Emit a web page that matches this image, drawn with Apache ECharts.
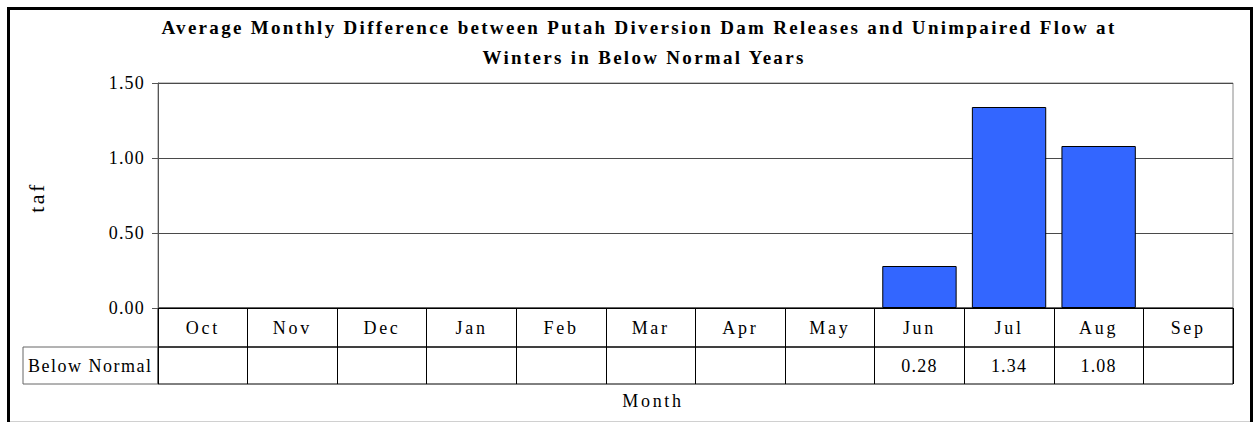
<!DOCTYPE html>
<html><head><meta charset="utf-8">
<script src="https://cdn.jsdelivr.net/npm/echarts@6/dist/echarts.min.js"></script>
<style>html,body{margin:0;padding:0;background:#fff}#chart{width:1255px;height:422px}</style>
</head><body><div id="chart"></div>
<script>
// ---- data ----
const titleLine1 = 'Average Monthly Difference between Putah Diversion Dam Releases and Unimpaired Flow at';
const titleLine2 = 'Winters in Below Normal Years';
const months = ['Oct','Nov','Dec','Jan','Feb','Mar','Apr','May','Jun','Jul','Aug','Sep'];
const seriesName = 'Below Normal';
const belowNormal = [null,null,null,null,null,null,null,null,0.28,1.34,1.08,null];
const yMin = 0, yMax = 1.5, yInterval = 0.5;
const yAxisName = 'taf';
const xAxisName = 'Month';

// ---- layout ----
const FONT = '"Liberation Serif", "Times New Roman", serif';
const PL = 158, PW = 1075;

const chart = echarts.init(document.getElementById('chart'), null, {renderer: 'svg'});
const txt = (o) => Object.assign({fontFamily: FONT, fontSize: 18, color: '#000'}, o);

chart.setOption({
  animation: false,
  backgroundColor: '#fff',
  title: [
    {text: titleLine1, left: 639, top: 17.5, textAlign: 'center', padding: 0,
     textStyle: txt({fontWeight: 'bold', fontSize: 19})},
    {text: titleLine2, left: 644, top: 47.5, textAlign: 'center', padding: 0,
     textStyle: txt({fontWeight: 'bold', fontSize: 19})},
    {text: xAxisName, left: 653, top: 392, textAlign: 'center', padding: 0,
     textStyle: txt({fontWeight: 'normal', fontSize: 18})}
  ],
  grid: [
    {left: PL, top: 83, width: PW, height: 225, show: true, borderColor: '#8a8a8a', borderWidth: 1, containLabel: false},
    {left: PL, top: 308, width: PW, height: 39, show: true, borderColor: '#000', borderWidth: 1},
    {left: PL, top: 347, width: PW, height: 37, show: true, borderColor: '#000', borderWidth: 1},
    {left: 23, top: 347, width: 135, height: 37, show: true, borderColor: '#666', borderWidth: 1}
  ],
  xAxis: [
    {type: 'category', gridIndex: 0, data: months,
     axisLine: {show: true, lineStyle: {color: '#000', width: 1}},
     axisTick: {show: false},
     axisLabel: Object.assign(txt({}), {interval: 0, margin: 19.5, verticalAlign: 'middle'}),
     splitLine: {show: false}},
    {type: 'category', gridIndex: 1, data: months,
     axisLine: {show: false}, axisTick: {show: false}, axisLabel: {show: false},
     splitLine: {show: true, interval: 0, lineStyle: {color: '#000', width: 1}}},
    {type: 'category', gridIndex: 2, data: months,
     axisLine: {show: false}, axisTick: {show: false},
     axisLabel: Object.assign(txt({}), {interval: 0, inside: true, margin: 18, verticalAlign: 'middle',
       formatter: (v, i) => belowNormal[i] == null ? '' : belowNormal[i].toFixed(2)}),
     splitLine: {show: true, interval: 0, lineStyle: {color: '#000', width: 1}}},
    {type: 'value', gridIndex: 3, show: false}
  ],
  yAxis: [
    {type: 'value', gridIndex: 0, min: yMin, max: yMax, interval: yInterval,
     name: yAxisName, nameLocation: 'middle', nameGap: 111, nameRotate: 90,
     nameTextStyle: txt({fontSize: 22, padding: [0, 4, 0, 0]}),
     axisLine: {show: true, lineStyle: {color: '#555', width: 1}},
     axisTick: {show: true, inside: false, length: 6, lineStyle: {color: '#555'}},
     axisLabel: Object.assign(txt({}), {margin: 13, formatter: v => v.toFixed(2)}),
     splitLine: {show: true, lineStyle: {color: '#4a4a4a', width: 1}}},
    {type: 'value', gridIndex: 1, show: false},
    {type: 'value', gridIndex: 2, show: false},
    {type: 'category', gridIndex: 3, data: [seriesName],
     axisLine: {show: false}, axisTick: {show: false}, splitLine: {show: false},
     axisLabel: Object.assign(txt({}), {inside: true, margin: 5, align: 'left'})}
  ],
  series: [
    {type: 'bar', name: seriesName, xAxisIndex: 0, yAxisIndex: 0, data: belowNormal,
     barCategoryGap: '17%',
     itemStyle: {color: '#3366FF', borderColor: '#000', borderWidth: 1}}
  ],
  graphic: [
    {type: 'rect', shape: {x: 8.5, y: 8.5, width: 1243, height: 440}, silent: true,
     style: {fill: 'none', stroke: '#000', lineWidth: 3}, z: 100},
    {type: 'line', shape: {x1: 10, y1: 421.5, x2: 1250, y2: 421.5}, silent: true,
     style: {stroke: '#d0d0d0', lineWidth: 1}, z: 100}
  ]
});

function applySpacing() {
  document.querySelectorAll('#chart svg text').forEach(t => {
    const s = t.textContent;
    let ls = 1.2;
    if (s === titleLine1 || s === titleLine2) ls = 2.3;
    else if (months.indexOf(s) >= 0 || s === xAxisName) ls = 2.7;
    else if (s === yAxisName) ls = 2.5;
    else if (s === seriesName) ls = 1.5;
    t.setAttribute('letter-spacing', ls + 'px');
  });
}
applySpacing();
chart.on('rendered', applySpacing);
chart.on('finished', applySpacing);
setTimeout(applySpacing, 0);
</script></body></html>
